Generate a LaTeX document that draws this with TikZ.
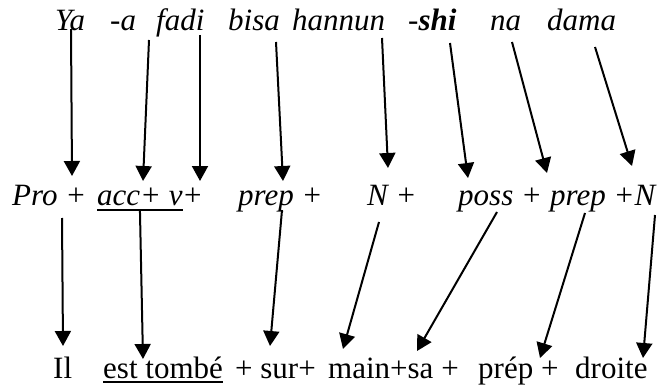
\documentclass[tikz,border=0pt]{standalone}
\usepackage{fontspec}
\setmainfont{Liberation Serif}
\usetikzlibrary{arrows.meta}

\begin{document}
\begin{tikzpicture}[x=1pt, y=-1pt, every node/.style={inner sep=0pt, anchor=base west}]
  \tikzset{
    hausa/.style={font=\fontsize{31}{36}\selectfont\itshape},
    cat/.style={font=\fontsize{31}{36}\selectfont\itshape},
    french/.style={font=\fontsize{31}{36}\selectfont},
    arr/.style={-{Triangle[length=15pt, width=16pt]}, line width=2pt},
    uline/.style={line width=2pt}
  }
  \useasboundingbox (0,0) rectangle (663,385);
  % hausa sentence
  \node[hausa] (ya)     at (55,31)  {Ya};
  \node[hausa] (acc)    at (110,31) {-a};
  \node[hausa] (fadi)   at (156,31) {fadi};
  \node[hausa] (bisa)   at (228,31) {bisa};
  \node[hausa] (hannun) at (292,31) {hannun};
  \node[hausa] (shi)    at (408,31) {-\textbf{shi}};
  \node[hausa] (na)     at (490,31) {na};
  \node[hausa] (dama)   at (547,31) {dama};
  % categories
  \node[cat] (pro)   at (12,205)  {Pro +};
  \node[cat] (accv)  at (97,205)  {acc+ v};
  \node[cat] (plus)  at (182,205) {+};
  \node[cat] (prep)  at (238,205) {prep +};
  \node[cat] (n)     at (367,205) {N +};
  \node[cat] (poss)  at (458,205) {poss +};
  \node[cat] (prepn) at (550,205) {prep +N};
  \draw[uline] ([yshift=-4pt]accv.south west) -- ([yshift=-4pt]accv.south east);
  % french gloss
  \node[french] (il)     at (53,378)  {Il};
  \node[french] (tombe)  at (103,378) {est tombé};
  \node[french] (sur)    at (235,378) {+ sur+};
  \node[french] (main)   at (328,378) {main+sa +};
  \node[french] (prepfr) at (478,378) {prép +};
  \node[french] (droite) at (575,378) {droite};
  \draw[uline] ([yshift=-3pt]tombe.south west) -- ([yshift=-3pt]tombe.south east);

  % arrow ends
  \coordinate (ya-o)     at (71,29);
  \coordinate (acc-o)    at (149,40);
  \coordinate (fadi-o)   at (200,35);
  \coordinate (bisa-o)   at (276,42);
  \coordinate (hannun-o) at (382,38);
  \coordinate (shi-o)    at (450,43);
  \coordinate (na-o)     at (512,42);
  \coordinate (dama-o)   at (595,47);
  \coordinate (pro-i)    at (72,176);
  \coordinate (accv-i)   at (143,181);
  \coordinate (v-i)      at (200,181);
  \coordinate (prep-i)   at (283,181);
  \coordinate (n-i)      at (388,168);
  \coordinate (poss-i)   at (468,178);
  \coordinate (prepn-i)  at (547,173);
  \coordinate (nn-i)     at (632,166);
  \coordinate (pro-o)    at (62,218);
  \coordinate (accv-o)   at ([yshift=-4pt]accv.south);
  \coordinate (prep-o)   at (282,210);
  \coordinate (n-o)      at (379,222);
  \coordinate (poss-o)   at (497,212);
  \coordinate (prepn-o)  at (585,213);
  \coordinate (nn-o)     at (655,215);
  \coordinate (il-i)     at (63,346);
  \coordinate (tombe-i)  at (143,359);
  \coordinate (sur-i)    at (270,346);
  \coordinate (main-i)   at (343,349);
  \coordinate (sa-i)     at (417,351);
  \coordinate (prepfr-i) at (540,358);
  \coordinate (droite-i) at (643,358);

  \draw[arr] (ya-o)     -- (pro-i);
  \draw[arr] (acc-o)    -- (accv-i);
  \draw[arr] (fadi-o)   -- (v-i);
  \draw[arr] (bisa-o)   -- (prep-i);
  \draw[arr] (hannun-o) -- (n-i);
  \draw[arr] (shi-o)    -- (poss-i);
  \draw[arr] (na-o)     -- (prepn-i);
  \draw[arr] (dama-o)   -- (nn-i);

  \draw[arr] (pro-o)    -- (il-i);
  \draw[arr] (accv-o)   -- (tombe-i);
  \draw[arr] (prep-o)   -- (sur-i);
  \draw[arr] (n-o)      -- (main-i);
  \draw[arr] (poss-o)   -- (sa-i);
  \draw[arr] (prepn-o)  -- (prepfr-i);
  \draw[arr] (nn-o)     -- (droite-i);
\end{tikzpicture}
\end{document}
